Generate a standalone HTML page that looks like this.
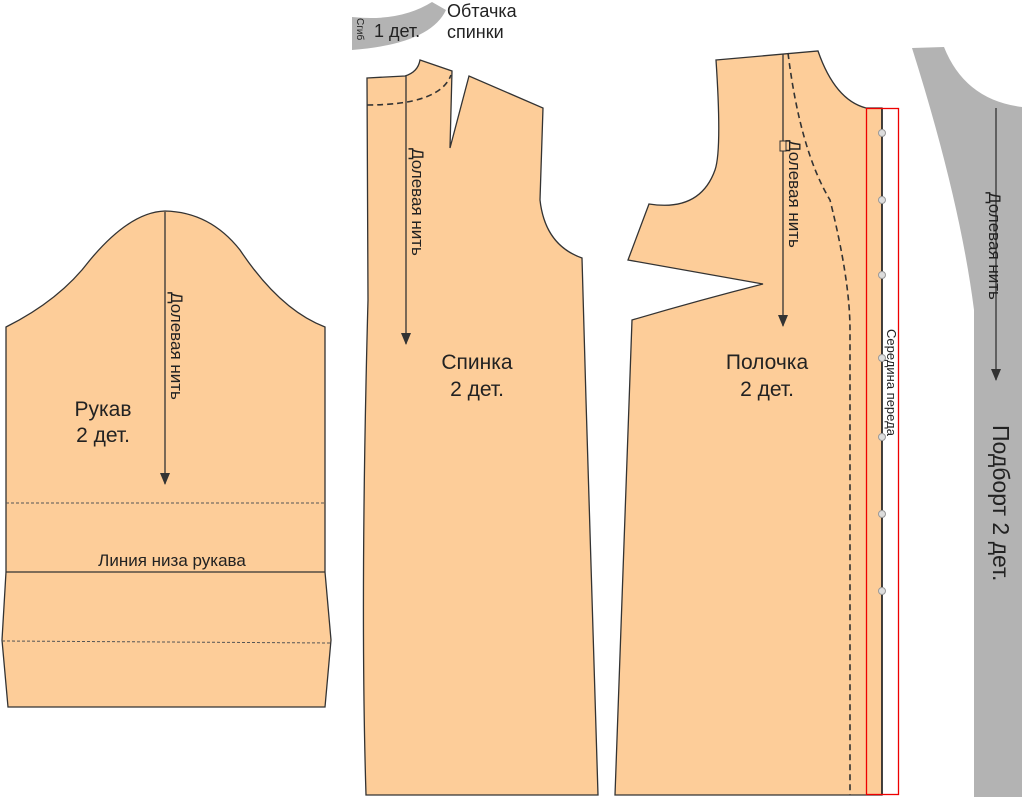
<!DOCTYPE html>
<html><head><meta charset="utf-8"><style>
html,body{margin:0;padding:0;background:#fff;width:1024px;height:797px;overflow:hidden}
svg{display:block}
text{font-family:"Liberation Sans",sans-serif;fill:#222}
</style></head><body>
<svg width="1024" height="797" viewBox="0 0 1024 797" xmlns="http://www.w3.org/2000/svg">
<defs><marker id="ar" markerWidth="12" markerHeight="10" refX="11" refY="5" orient="auto" markerUnits="userSpaceOnUse"><path d="M0,0 L12,5 L0,10 Z" fill="#333"/></marker></defs>
<!-- Obtachka -->
<path d="M352,17 Q400,22 432,2 L446,10 Q430,44 352,50 Z" fill="#b3b3b3"/>
<text x="374" y="37" font-size="18">1 дет.</text>
<text transform="translate(357,18) rotate(90)" font-size="10">Сгиб</text>
<text x="447" y="17" font-size="18">Обтачка</text>
<text x="447" y="38" font-size="18">спинки</text>
<!-- Podbort -->
<path d="M912,48 L944,47 Q965,100 1022,107 L1022,797 L974,797 L974,310 Q960,200 912,48 Z" fill="#b3b3b3"/>
<line x1="996" y1="108" x2="996" y2="380" stroke="#333" stroke-width="1.3" marker-end="url(#ar)"/>
<text transform="translate(989,192) rotate(90)" font-size="17">Долевая нить</text>
<text transform="translate(993,425) rotate(90)" font-size="23">Подборт 2 дет.</text>
<!-- Sleeve -->
<path d="M6,327 Q60,300 90,260 Q130,212 165,211 Q210,212 240,250 Q280,310 325,327 L325,572 L331,640 L325,707 L8,707 L2,640 L6,572 Z" fill="#fdcd99" stroke="#333" stroke-width="1.3"/>
<line x1="6" y1="503" x2="325" y2="503" stroke="#555" stroke-dasharray="3,2" stroke-width="1"/>
<line x1="2" y1="641" x2="331" y2="643" stroke="#555" stroke-dasharray="3,2" stroke-width="1"/>
<line x1="6" y1="572" x2="325" y2="572" stroke="#333" stroke-width="1.3"/>
<line x1="165" y1="212" x2="165" y2="484" stroke="#333" stroke-width="1.3" marker-end="url(#ar)"/>
<text transform="translate(171,292) rotate(90)" font-size="17">Долевая нить</text>
<text x="103" y="416" font-size="21" text-anchor="middle">Рукав</text>
<text x="103" y="442" font-size="21" text-anchor="middle">2 дет.</text>
<text x="172" y="566" font-size="17" text-anchor="middle">Линия низа рукава</text>
<!-- Back -->
<path d="M367,78 L405,76 Q418,72 420,60 L452,71 L450,148 L469,76 L543,108 L540,200 Q545,245 582,258 L586,400 Q592,600 598,795 L366,795 Q360,600 368,300 Z" fill="#fdcd99" stroke="#333" stroke-width="1.3"/>
<path d="M367,105 Q440,105 451,75" fill="none" stroke="#333" stroke-width="1.6" stroke-dasharray="6,4"/>
<line x1="406" y1="76" x2="406" y2="344" stroke="#333" stroke-width="1.3" marker-end="url(#ar)"/>
<text transform="translate(412,148) rotate(90)" font-size="17">Долевая нить</text>
<text x="477" y="369" font-size="21" text-anchor="middle">Спинка</text>
<text x="477" y="396" font-size="21" text-anchor="middle">2 дет.</text>
<!-- Front -->
<path d="M716,60 L818,51 Q835,100 866,108 L882,108 L882,795 L615,795 L632,320 Q700,300 763,284 L628,260 L649,204 Q700,212 715,170 Q722,150 716,60 Z" fill="#fdcd99" stroke="#333" stroke-width="1.3"/>
<path d="M788,53 Q800,150 830,200 Q850,280 850,330 L850,795" fill="none" stroke="#333" stroke-width="1.6" stroke-dasharray="6,4"/>
<line x1="783" y1="54" x2="783" y2="326" stroke="#333" stroke-width="1.3" marker-end="url(#ar)"/>
<rect x="780" y="141" width="6" height="10" fill="#fdcd99" stroke="#333" stroke-width="1"/>
<text transform="translate(789,140) rotate(90)" font-size="17">Долевая нить</text>
<text x="767" y="369" font-size="21" text-anchor="middle">Полочка</text>
<text x="767" y="396" font-size="21" text-anchor="middle">2 дет.</text>
<line x1="882" y1="108" x2="882" y2="795" stroke="#222" stroke-width="1.6"/>
<rect x="866.5" y="108.5" width="32" height="686" fill="none" stroke="#e00" stroke-width="1.3"/>
<g fill="#ddd" stroke="#999" stroke-width="1">
<circle cx="882" cy="133" r="3.5"/><circle cx="882" cy="200" r="3.5"/><circle cx="882" cy="275" r="3.5"/><circle cx="882" cy="358" r="3.5"/><circle cx="882" cy="437" r="3.5"/><circle cx="882" cy="514" r="3.5"/><circle cx="882" cy="591" r="3.5"/></g>
<text transform="translate(887,329) rotate(90)" font-size="13">Середина переда</text>
</svg>
</body></html>
